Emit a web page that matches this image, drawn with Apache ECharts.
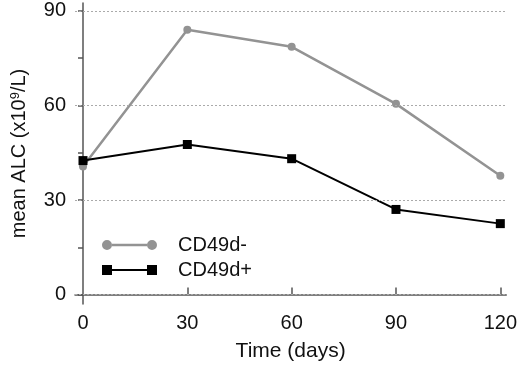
<!DOCTYPE html>
<html>
<head>
<meta charset="utf-8">
<script src="https://cdn.jsdelivr.net/npm/echarts@6/dist/echarts.min.js"></script>
<style>
  html, body { margin: 0; padding: 0; background: #fff; }
  #chart { width: 520px; height: 370px; }
</style>
</head>
<body>
<div id="chart"></div>
<script>
// 数据
var days = [0, 30, 60, 90, 120];
var cd49dNeg = [40.6, 84, 78.6, 60.5, 37.7];
var cd49dPos = [42.5, 47.6, 43.1, 27, 22.5];
var xTicks = [0, 30, 60, 90, 120];
var yLabels = [0, 30, 60, 90];
var yTicks = [0, 15, 30, 45, 60, 75, 90];
var gridValues = [0, 30, 60, 90];

var font = 'Liberation Sans, Arial, sans-serif';

function pairs(xs, ys) {
    return xs.map(function (x, i) { return [x, ys[i]]; });
}

var chart = echarts.init(document.getElementById('chart'));
var option = {
    animation: false,
    backgroundColor: '#fff',
    grid: {left: 75, right: 13, top: 3, bottom: 66},
    legend: {
        left: 97,
        top: 230,
        orient: 'vertical',
        itemWidth: 55,
        itemHeight: 10,
        itemGap: 5,
        textStyle: {fontFamily: font, fontSize: 20, color: '#111', padding: [0, 0, 0, 16]},
        data: [
            {name: 'CD49d-', icon: 'path://M0,5a5,5 0 1,0 10,0a5,5 0 1,0 -10,0zM45,5a5,5 0 1,0 10,0a5,5 0 1,0 -10,0zM10,3.8h35v2.4h-35z'},
            {name: 'CD49d+', icon: 'path://M0,0h10v10h-10zM45,0h10v10h-10zM10,4h35v2h-35z'}
        ]
    },
    xAxis: {
        type: 'value',
        min: -2.3,
        max: 121.7,
        name: 'Time (days)',
        nameLocation: 'middle',
        nameGap: 37,
        nameTextStyle: {fontFamily: font, fontSize: 21, color: '#111'},
        axisLine: {lineStyle: {color: '#555', width: 1.5}},
        axisTick: {inside: true, length: 7, customValues: [30, 60, 90, 120], lineStyle: {color: '#555', width: 1.5}},
        axisLabel: {customValues: xTicks, margin: 9, fontFamily: font, fontSize: 20, color: '#111'},
        splitLine: {show: false}
    },
    yAxis: {
        type: 'value',
        min: -3,
        max: 92.5,
        name: '{a|mean ALC (x10}{s|9}{a|/L)}',
        nameLocation: 'middle',
        nameGap: 45,
        nameTextStyle: {
            rich: {
                a: {fontFamily: font, fontSize: 20, color: '#111'},
                s: {fontFamily: font, fontSize: 13, color: '#111', verticalAlign: 'top', padding: [0, 0, 8, 0]}
            }
        },
        axisLine: {lineStyle: {color: '#555', width: 1.5}},
        axisTick: {inside: false, length: 5, customValues: yTicks, lineStyle: {color: '#555', width: 1.5}},
        axisLabel: {customValues: yLabels, margin: 9, fontFamily: font, fontSize: 20, color: '#111'},
        splitLine: {show: false}
    },
    series: [
        {
            name: 'CD49d-',
            type: 'line',
            data: pairs(days, cd49dNeg),
            symbol: 'circle',
            symbolSize: 8,
            color: '#939393',
            lineStyle: {width: 2.5, color: '#939393'},
            itemStyle: {color: '#939393'},
            z: 3,
            markLine: {
                silent: true,
                symbol: 'none',
                label: {show: false},
                lineStyle: {type: [2, 2], color: '#aaa', width: 1},
                data: gridValues.map(function (v) { return {yAxis: v}; })
            }
        },
        {
            name: 'CD49d+',
            type: 'line',
            data: pairs(days, cd49dPos),
            symbol: 'rect',
            symbolSize: 9,
            color: '#000',
            lineStyle: {width: 2, color: '#000'},
            itemStyle: {color: '#000'},
            z: 4
        }
    ]
};
chart.setOption(option);
</script>
</body>
</html>
